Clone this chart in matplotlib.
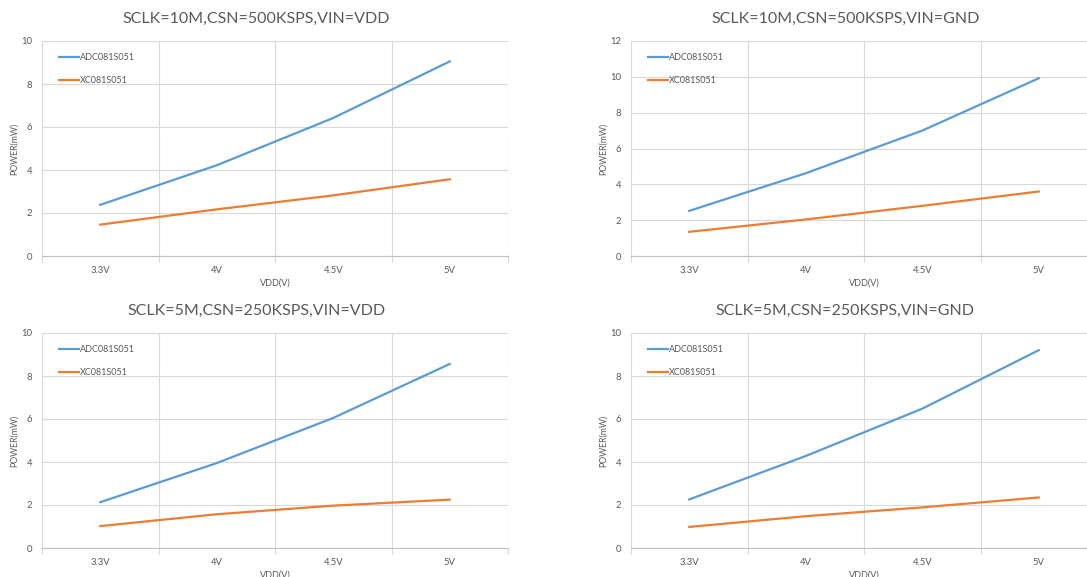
import matplotlib
matplotlib.use("Agg")
import matplotlib.pyplot as plt
import numpy as np

categories = ["3.3V", "4V", "4.5V", "5V"]
titles = ["SCLK=10M,CSN=500KSPS,VIN=VDD", "SCLK=10M,CSN=500KSPS,VIN=GND",
          "SCLK=5M,CSN=250KSPS,VIN=VDD", "SCLK=5M,CSN=250KSPS,VIN=GND"]
adc_tl = [2.38, 4.22, 6.42, 9.05]
xc_tl = [1.46, 2.17, 2.82, 3.57]
adc_tr = [2.52, 4.62, 7.0, 9.92]
xc_tr = [1.35, 2.04, 2.8, 3.6]
adc_bl = [2.13, 3.95, 6.05, 8.56]
xc_bl = [1.02, 1.57, 1.97, 2.25]
adc_br = [2.26, 4.28, 6.48, 9.2]
xc_br = [0.98, 1.48, 1.89, 2.35]
ymax = [10, 12, 10, 10]
series_names = ["ADC081S051", "XC081S051"]

plt.rcParams['font.family'] = ['Lato', 'DejaVu Sans']
fig = plt.figure(figsize=(10.87, 5.77), dpi=100)
W, H = 1087, 577
panels = [(42, 41, adc_tl, xc_tl), (631, 41, adc_tr, xc_tr),
          (42, 333, adc_bl, xc_bl), (631, 333, adc_br, xc_br)]
tc = "#595959"
gc = "#d9d9d9"
for i, (lx, ty, adc, xc) in enumerate(panels):
    pw, ph = 466, 215
    ax = fig.add_axes([lx / W, 1 - (ty + ph) / H, pw / W, ph / H])
    x = np.arange(len(categories))
    ax.plot(x, adc, color="#5B9BD5", lw=1.6, label=series_names[0])
    ax.plot(x, xc, color="#ED7D31", lw=1.6, label=series_names[1])
    ax.set_xlim(-0.5, 3.5)
    ax.set_ylim(0, ymax[i])
    ax.set_yticks(np.arange(0, ymax[i] + 1, 2))
    ax.set_xticks(x)
    ax.set_xticklabels(categories)
    ax.set_xticks(np.arange(-0.5, 3.6, 1.0), minor=True)
    ax.tick_params(axis='x', which='major', length=0, pad=7, labelsize=6.8, labelcolor=tc)
    ax.tick_params(axis='x', which='minor', length=4, color=gc, width=0.8)
    ax.tick_params(axis='y', length=0, pad=7, labelsize=6.8, labelcolor=tc)
    ax.grid(axis='y', color=gc, lw=0.8)
    ax.grid(axis='x', which='minor', color=gc, lw=0.8)
    ax.set_axisbelow(True)
    for s in ['top', 'right', 'left']:
        ax.spines[s].set_visible(False)
    ax.spines['bottom'].set_color("#bfbfbf")
    ax.spines['bottom'].set_linewidth(0.8)
    ax.set_xlabel("VDD(V)", fontsize=6.5, color=tc, labelpad=3)
    ax.set_ylabel("POWER(mW)", fontsize=6.3, color=tc, labelpad=2)
    ax.set_title(titles[i], fontsize=11.5, color=tc, pad=13, x=0.46)
    ax.legend(loc='upper left', bbox_to_anchor=(0.02, 0.98), frameon=False,
              fontsize=6.5, handlelength=2.2, handletextpad=0.1,
              labelspacing=1.5, labelcolor=tc)
fig.savefig("out.png", dpi=100)
